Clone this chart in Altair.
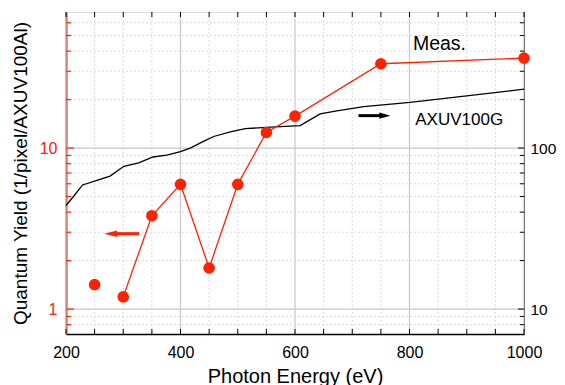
import altair as alt
import pandas as pd

# ---- data ----
energy_meas = [250, 300, 350, 400, 450, 500, 550, 600, 750, 1000]
qy_meas = [1.42, 1.19, 3.8, 5.95, 1.8, 5.95, 12.5, 15.8, 33.4, 36.2]

energy_axuv = [200, 213, 229, 254, 277, 301, 327, 352, 376, 400, 417, 440, 458,
               487, 513, 557, 609, 644, 673, 720, 801, 1000]
qy_axuv = [44, 50, 59, 63, 67, 77, 81, 88, 90.5, 95, 100, 110, 118,
           126, 132, 135, 138, 163, 170, 181, 192, 232]

x_major = [200, 400, 600, 800, 1000]
x_minor = [250, 300, 350, 450, 500, 550, 650, 700, 750, 850, 900, 950]
yl_major = [1, 10]
yl_minor = [0.8, 0.9, 2, 3, 4, 5, 6, 7, 8, 9, 20, 30, 40, 50, 60]
yr_major = [10, 100]
yr_minor = [8, 9, 20, 30, 40, 50, 60, 70, 80, 90, 200, 300, 400, 500, 600]

labels_text = ["Meas.", "AXUV100G"]
labels_x = [806, 810]
labels_y = [40.4, 13.95]
labels_size = [19.5, 17]

arrow_x_tail = [327.5, 711]
arrow_x_shaft_end = [282, 754]
arrow_x_head = [278, 757]
arrow_y = [2.94, 15.9]
arrow_color = ["#ff2200", "#000000"]
arrow_shape = ["M-1,0L1,-0.5L1,0.5Z", "M1,0L-1,-0.55L-1,0.55Z"]
arrow_size = [170, 120]

W, H = 458, 322
RED = "#ff2200"
FONT = "Liberation Sans"

xs = alt.Scale(domain=[200, 1000], nice=False, zero=False)
yl = alt.Scale(type="log", domain=[0.7, 70], nice=False)
yr = alt.Scale(type="log", domain=[7, 700], nice=False)

x_axis = alt.Axis(values=x_major, title="Photon Energy (eV)", grid=False, format="d",
                  ticks=False, tickSize=0, labelFontSize=16, labelPadding=10,
                  titleFontSize=20, titleFontWeight="normal", titleY=48,
                  titleBaseline="alphabetic", domainColor="black", domainWidth=1.5,
                  labelColor="black", titleColor="black", labelFlush=False)
yl_axis = alt.Axis(values=yl_major, orient="left", title="Quantum Yield (1/pixel/AXUV100Al)",
                   grid=False, ticks=False, tickSize=0, labelFontSize=16, labelPadding=9,
                   labelColor=RED, domainColor=RED, domainWidth=2, format="~g",
                   titleFontSize=19, titleFontWeight="normal", titleColor="black",
                   titleX=-40, titleY=H / 2, titleAngle=270, titleAlign="center",
                   titleBaseline="alphabetic")
yr_axis = alt.Axis(values=yr_major, orient="right", title=None, grid=False,
                   ticks=False, tickSize=0, labelFontSize=15.5, labelPadding=6,
                   labelColor="black", domainColor="black", domainWidth=1, format="~g")

def X(f):
    return alt.X(f"{f}:Q", scale=xs, axis=x_axis)

def YL(f):
    return alt.Y(f"{f}:Q", scale=yl, axis=yl_axis)

def YR(f):
    return alt.Y(f"{f}:Q", scale=yr, axis=yr_axis)

# ---- group B: grid + AXUV100G line (right scale) ----
df_xmin = pd.DataFrame({"E": x_minor})
df_xmaj = pd.DataFrame({"E": x_major})
df_yrmin = pd.DataFrame({"v": yr_minor})
df_yrmaj = pd.DataFrame({"v": yr_major})

vgrid_min = alt.Chart(df_xmin).mark_rule(color="#dcdcdc", strokeDash=[2, 2], strokeWidth=1).encode(x=X("E"))
vgrid_maj = alt.Chart(df_xmaj).mark_rule(color="#c8c8c8", strokeWidth=1.2).encode(x=X("E"))
hgrid_min = alt.Chart(df_yrmin).mark_rule(color="#dcdcdc", strokeDash=[2, 2], strokeWidth=1).encode(y=YR("v"))
hgrid_maj = alt.Chart(df_yrmaj).mark_rule(color="#c8c8c8", strokeWidth=1.2).encode(y=YR("v"))

df_axuv = pd.DataFrame({"E": energy_axuv, "v": qy_axuv})
axuv_line = alt.Chart(df_axuv).mark_line(color="black", strokeWidth=1.3).encode(x=X("E"), y=YR("v"))

r_ticks_maj = alt.Chart(df_yrmaj).mark_rule(color="black", strokeWidth=1).encode(
    y=YR("v"), x=alt.value(W), x2=alt.value(W - 6))
r_ticks_min = alt.Chart(df_yrmin).mark_rule(color="black", strokeWidth=1).encode(
    y=YR("v"), x=alt.value(W), x2=alt.value(W - 4))

group_b = alt.layer(vgrid_min, vgrid_maj, hgrid_min, hgrid_maj, axuv_line, r_ticks_maj, r_ticks_min)

# ---- group A: measured data (left scale) ----
df_meas = pd.DataFrame({"E": energy_meas, "v": qy_meas})
df_meas_line = pd.DataFrame({"E": energy_meas[1:], "v": qy_meas[1:]})
meas_line = alt.Chart(df_meas_line).mark_line(color=RED, strokeWidth=1.3).encode(x=X("E"), y=YL("v"))
meas_pts = alt.Chart(df_meas).mark_circle(color=RED, size=135, opacity=1).encode(x=X("E"), y=YL("v"))

df_ylmin = pd.DataFrame({"v": yl_minor})
df_ylmaj = pd.DataFrame({"v": yl_major})
l_ticks_maj = alt.Chart(df_ylmaj).mark_rule(color=RED, strokeWidth=1.2).encode(
    y=YL("v"), x=alt.value(0), x2=alt.value(8))
l_ticks_min = alt.Chart(df_ylmin).mark_rule(color=RED, strokeWidth=1.2).encode(
    y=YL("v"), x=alt.value(0), x2=alt.value(5))

df_xall = pd.DataFrame({"E": x_major + x_minor})
b_ticks = alt.Chart(df_xall).mark_rule(color="black", strokeWidth=1).encode(
    x=X("E"), y=alt.value(H), y2=alt.value(H - 5))
t_ticks = alt.Chart(df_xall).mark_rule(color="black", strokeWidth=1).encode(
    x=X("E"), y=alt.value(0), y2=alt.value(5))

df_arrow = pd.DataFrame({"xt": arrow_x_tail, "xs": arrow_x_shaft_end, "xh": arrow_x_head,
                         "v": arrow_y, "c": arrow_color})
arrow_shaft = alt.Chart(df_arrow).mark_rule(strokeWidth=3).encode(
    x=X("xs"), x2="xt:Q", y=YL("v"), color=alt.Color("c:N", scale=None))
arrow_heads = [
    alt.Chart(df_arrow.iloc[[i]]).mark_point(shape=arrow_shape[i], filled=True, size=arrow_size[i],
                                              opacity=1, color=arrow_color[i]).encode(
        x=X("xh"), y=YL("v"))
    for i in range(len(arrow_shape))
]

df_text = pd.DataFrame({"E": labels_x, "v": labels_y, "t": labels_text, "fs": labels_size})
texts = alt.Chart(df_text).mark_text(align="left", baseline="alphabetic", color="black",
                                     font=FONT).encode(
    x=X("E"), y=YL("v"), text="t:N", size=alt.Size("fs:Q", scale=None))

group_a = alt.layer(meas_line, meas_pts, l_ticks_maj, l_ticks_min, b_ticks, t_ticks,
                    arrow_shaft, *arrow_heads, texts)

chart = alt.layer(group_b, group_a).resolve_scale(y="independent").properties(
    width=W, height=H,
    autosize=alt.AutoSizeParams(type="none"),
    padding={"left": 58, "top": 4, "right": 33, "bottom": 51},
    background="white",
).configure_view(stroke="black", strokeWidth=1).configure(font=FONT)

chart.save("out.html", embed_options={"renderer": "svg", "actions": False})
